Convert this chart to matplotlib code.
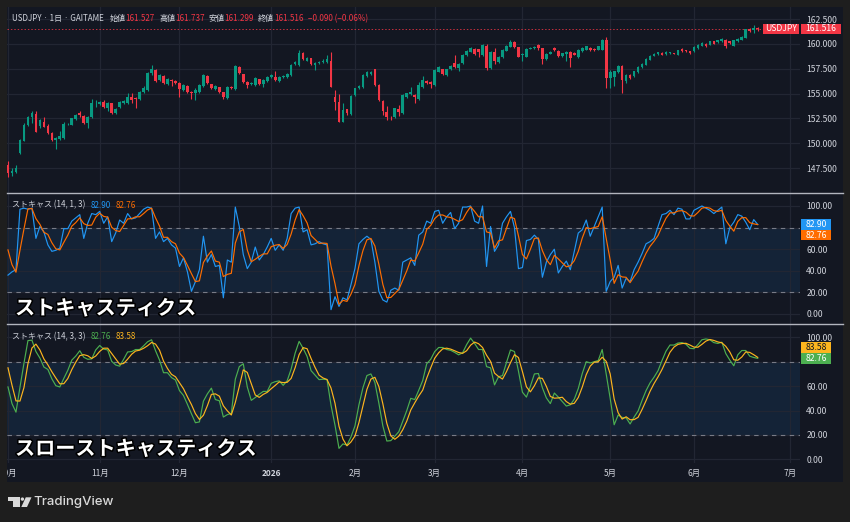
import matplotlib.pyplot as plt
import matplotlib.patches as mpatches
import matplotlib.transforms as mtransforms
import matplotlib.patheffects as pe
import numpy as np
import pandas as pd

plt.rcParams['font.family'] = ['Noto Sans CJK JP', 'DejaVu Sans']

# ---- data (USDJPY daily, 2025-10-01 .. 2026-06-23) ----
opens = [147.83, 147.06, 147.16, 149.0, 150.24, 151.85, 152.62, 152.95, 151.78, 152.18,
         151.75, 151.01, 150.34, 150.44, 150.57, 151.91, 151.85, 152.42, 153.09, 152.79,
         152.01, 152.62, 154.02, 153.96, 154.16, 153.59, 154.02, 153.09, 153.69, 154.09,
         154.02, 154.7, 154.53, 154.43, 155.2, 155.37, 157.04, 157.38, 156.37, 156.77,
         155.93, 156.37, 156.3, 156.1, 155.37, 155.77, 155.2, 155.1, 155.2, 155.77,
         156.77, 155.93, 155.47, 155.63, 155.13, 154.6, 155.7, 155.43, 157.65, 156.97,
         156.2, 155.97, 155.87, 156.44, 155.97, 156.3, 156.64, 156.64, 156.3, 156.64,
         156.7, 156.87, 157.98, 157.88, 159.05, 158.31, 158.55, 157.88, 158.04, 158.21,
         158.21, 158.31, 154.63, 154.13, 152.18, 153.42, 153.0, 154.86, 155.53, 155.7,
         156.77, 156.97, 157.44, 155.87, 154.29, 153.19, 152.68, 152.62, 153.42, 153.09,
         154.69, 154.96, 154.86, 154.46, 155.7, 156.27, 156.2, 155.87, 157.21, 157.44,
         156.87, 157.44, 158.04, 157.54, 158.04, 158.88, 159.22, 159.45, 159.45, 158.88,
         159.79, 157.54, 159.22, 158.21, 158.65, 159.32, 159.72, 160.22, 159.65, 158.88,
         158.71, 159.52, 159.55, 159.89, 159.55, 158.45, 159.0, 159.55, 159.32, 158.78,
         158.99, 159.16, 159.09, 158.69, 159.26, 159.43, 159.6, 159.49, 159.43, 159.43,
         160.37, 156.57, 156.67, 157.14, 157.81, 156.23, 156.9, 156.8, 157.14, 157.71,
         157.91, 158.42, 158.82, 158.99, 159.09, 158.99, 159.09, 159.06, 158.92, 159.53,
         159.36, 159.26, 159.26, 159.6, 159.83, 160.03, 159.93, 160.27, 160.17, 160.3,
         160.44, 160.27, 159.83, 160.27, 160.44, 160.61, 161.45, 161.38, 161.527]
highs = [148.26, 147.49, 147.79, 150.45, 152.0, 152.75, 153.26, 153.26, 152.42, 152.62,
         151.9, 151.15, 150.67, 151.2, 152.1, 152.05, 152.6, 152.95, 153.26, 152.85,
         152.75, 154.43, 154.36, 154.3, 154.4, 154.2, 154.1, 153.55, 154.25, 154.35,
         155.03, 155.03, 154.7, 155.3, 155.77, 157.2, 157.88, 157.45, 156.95, 156.85,
         156.55, 156.44, 156.37, 156.2, 155.95, 155.85, 155.3, 155.53, 155.95, 156.95,
         156.9, 156.0, 155.9, 155.7, 155.2, 155.77, 155.77, 157.85, 157.75, 157.0,
         156.3, 156.2, 156.65, 156.5, 156.45, 156.8, 156.95, 157.27, 156.8, 156.85,
         157.05, 157.95, 158.3, 159.4, 159.22, 158.7, 158.6, 158.2, 158.3, 158.45,
         158.88, 159.22, 155.37, 154.96, 154.02, 153.5, 154.85, 155.6, 155.85, 156.95,
         157.31, 157.3, 157.5, 155.95, 154.35, 153.76, 152.75, 153.6, 153.86, 154.95,
         155.1, 155.7, 154.95, 156.2, 156.77, 156.35, 156.3, 157.45, 157.8, 157.5,
         157.5, 157.85, 158.88, 158.05, 158.95, 159.35, 159.7, 159.55, 159.5, 159.95,
         160.0, 159.3, 159.55, 158.8, 159.45, 159.85, 160.35, 160.3, 159.7, 159.05,
         159.6, 159.7, 159.8, 159.98, 159.6, 159.05, 159.3, 159.72, 159.4, 159.12,
         159.26, 159.25, 159.15, 159.5, 159.66, 159.83, 159.66, 159.55, 159.83, 160.5,
         160.7, 157.41, 157.3, 157.9, 157.91, 157.0, 156.95, 157.3, 157.78, 158.05,
         158.55, 158.9, 159.05, 159.22, 159.15, 159.3, 159.22, 159.1, 159.43, 159.6,
         159.43, 159.3, 159.76, 160.0, 160.17, 160.1, 160.34, 160.34, 160.44, 160.58,
         160.51, 160.34, 160.44, 160.58, 160.78, 161.52, 161.62, 161.95, 161.737]
lows = [146.65, 146.7, 147.06, 148.9, 150.2, 151.75, 152.08, 151.1, 151.5, 151.6,
        150.95, 150.2, 149.4, 150.3, 150.45, 151.85, 151.8, 152.35, 152.68, 151.9,
        151.58, 152.55, 153.69, 153.9, 153.6, 153.3, 153.0, 152.95, 153.6, 154.0,
        153.95, 154.02, 153.59, 154.36, 155.1, 155.3, 156.9, 156.2, 156.3, 156.0,
        155.85, 155.77, 155.95, 154.7, 155.3, 155.03, 154.43, 154.36, 155.1, 155.7,
        155.95, 155.45, 155.4, 155.05, 154.43, 154.43, 155.45, 155.4, 156.95, 156.1,
        155.6, 155.9, 155.8, 155.9, 155.7, 156.2, 156.55, 156.3, 156.2, 156.55,
        156.6, 156.8, 157.9, 157.8, 158.4, 158.25, 157.9, 157.37, 157.95, 158.1,
        158.1, 155.65, 153.35, 152.1, 152.1, 152.85, 152.9, 154.8, 155.45, 155.6,
        156.7, 156.9, 155.8, 154.3, 152.85, 152.35, 152.35, 152.55, 152.75, 153.0,
        154.6, 154.9, 154.02, 154.4, 155.6, 155.95, 155.53, 155.8, 157.15, 156.9,
        156.8, 157.4, 157.55, 157.31, 158.0, 158.8, 159.15, 158.9, 158.71, 158.8,
        157.4, 157.45, 158.0, 158.1, 158.55, 159.25, 159.65, 159.55, 158.65, 158.31,
        158.65, 159.45, 159.45, 159.38, 157.98, 158.4, 158.95, 159.3, 158.7, 158.7,
        158.25, 157.7, 158.85, 158.6, 159.2, 159.36, 159.3, 159.3, 159.36, 159.36,
        155.56, 155.56, 155.72, 157.05, 155.05, 156.1, 156.5, 156.7, 157.05, 157.6,
        157.85, 158.35, 158.75, 158.9, 158.85, 158.92, 159.02, 158.96, 158.86, 159.2,
        159.2, 159.02, 159.19, 159.53, 159.76, 159.7, 159.86, 159.96, 160.1, 160.24,
        159.56, 160.03, 159.76, 160.2, 160.37, 160.55, 161.18, 161.11, 161.299]
closes = [147.06, 147.26, 147.49, 150.34, 151.85, 152.62, 153.09, 151.18, 152.35, 151.68,
          151.01, 150.34, 150.57, 150.74, 151.91, 151.95, 152.52, 152.85, 152.85, 152.08,
          152.68, 154.02, 154.09, 154.19, 153.69, 154.09, 153.09, 153.46, 154.16, 154.26,
          154.7, 154.36, 154.43, 155.2, 155.53, 157.11, 157.44, 156.3, 156.87, 156.1,
          156.44, 156.3, 156.1, 155.43, 155.87, 155.2, 155.1, 155.37, 155.87, 156.87,
          156.03, 155.53, 155.8, 155.13, 154.7, 155.7, 155.53, 157.78, 157.04, 156.2,
          155.87, 156.1, 156.54, 155.97, 156.37, 156.7, 156.87, 156.37, 156.7, 156.77,
          156.97, 157.88, 158.18, 159.05, 158.45, 158.61, 157.98, 158.11, 158.21, 158.31,
          158.45, 155.7, 154.19, 152.18, 153.35, 153.1, 154.76, 155.53, 155.77, 156.87,
          157.21, 157.21, 155.87, 154.36, 153.29, 152.68, 152.62, 153.52, 153.19, 154.86,
          155.03, 155.2, 154.69, 155.87, 156.37, 156.03, 155.97, 157.37, 157.71, 156.97,
          157.44, 157.78, 157.64, 157.98, 158.88, 159.28, 159.62, 158.98, 159.22, 159.89,
          157.54, 159.22, 158.31, 158.71, 159.38, 159.79, 160.22, 159.65, 158.71, 158.9,
          159.52, 159.62, 159.72, 159.55, 158.45, 158.98, 159.22, 159.38, 158.78, 159.05,
          159.19, 158.59, 158.92, 159.43, 159.6, 159.76, 159.36, 159.36, 159.76, 160.44,
          156.57, 157.14, 157.24, 157.81, 156.33, 156.9, 156.57, 157.24, 157.71, 157.98,
          158.49, 158.82, 158.99, 159.16, 158.92, 159.23, 159.16, 159.02, 159.36, 159.26,
          159.26, 159.09, 159.7, 159.93, 160.1, 159.76, 160.27, 160.03, 160.37, 160.51,
          159.76, 160.1, 160.37, 160.51, 160.71, 161.45, 161.25, 161.62, 161.516]

# raw %K (14); warmup = bars just before the visible range
k_warmup = [95, 90, 80, 62]
k_raw = [36, 39, 41, 97, 98, 97, 98, 70, 81, 76,
         64, 58, 59, 61, 79, 79, 86, 89, 92, 70,
         84, 93, 92, 95, 84, 90, 67, 75, 87, 84,
         93, 88, 89, 93, 97, 99, 98, 70, 76, 67,
         70, 64, 61, 44, 52, 39, 21, 30, 41, 72,
         48, 55, 44, 45, 15, 50, 48, 99, 81, 55,
         42, 48, 62, 50, 55, 62, 70, 59, 64, 59,
         70, 93, 98, 99, 76, 78, 64, 65, 67, 65,
         64, 4, 16, 7, 15, 13, 27, 42, 65, 69,
         72, 69, 48, 21, 13, 11, 22, 24, 22, 48,
         50, 52, 45, 73, 76, 86, 84, 95, 96, 84,
         90, 94, 79, 84, 99, 99, 100, 86, 84, 100,
         44, 81, 58, 64, 84, 90, 95, 80, 42, 43,
         68, 69, 73, 69, 34, 48, 55, 60, 38, 44,
         49, 41, 58, 75, 78, 87, 72, 81, 90, 99,
         21, 30, 34, 45, 24, 33, 30, 41, 48, 56,
         65, 67, 70, 81, 92, 93, 96, 92, 98, 97,
         88, 88, 96, 98, 100, 98, 96, 93, 96, 99,
         65, 80, 85, 92, 90.6, 85, 78, 87.38, 82.9]

month_pos = [0, 23, 43, 66, 87, 107, 129, 151, 172, 196]
month_labels = ['10月', '11月', '12月', '2026', '2月', '3月', '4月', '5月', '6月', '7月']
price_ticks = [147.5, 150.0, 152.5, 155.0, 157.5, 160.0, 162.5]
stoch_ticks = [0, 20, 40, 60, 80, 100]

# stochastic lines (TradingView: %D = SMA3 of %K, slow = SMA3 twice)
k_s = pd.Series(k_warmup + k_raw)
d_s = k_s.rolling(3).mean()
sd_s = d_s.rolling(3).mean()
w = len(k_warmup)
k = k_s.values[w:]
d = d_s.values[w:]
sk = d
sd = sd_s.values[w:]

o = np.array(opens); h = np.array(highs); l = np.array(lows); c = np.array(closes)
idx = np.arange(len(c))

W, H = 850, 522
BG = '#131722'
GRID = '#222633'
TXT = '#d1d4dc'
UP, DOWN = '#089981', '#F23645'
BLUE, ORANGE, GREEN, YELLOW = '#2196F3', '#FF6D00', '#4CAF50', '#FDB51E'

fig = plt.figure(figsize=(8.5, 5.22), dpi=100)
fig.patch.set_facecolor('#1e1e1e')


def P(x, y):
    return (x / W, 1 - y / H)


def px_axes(x0, y0, x1, y1):
    ax = fig.add_axes([x0 / W, 1 - y1 / H, (x1 - x0) / W, (y1 - y0) / H])
    ax.set_facecolor(BG)
    for s in ax.spines.values():
        s.set_visible(False)
    return ax


fig.add_artist(mpatches.Rectangle(P(7, 482), 836 / W, 475 / H, transform=fig.transFigure,
                                  fc=BG, ec='none', zorder=-5))

ax1 = px_axes(7, 7, 800, 192.5)
ax2 = px_axes(7, 194, 800, 323.5)
ax3 = px_axes(7, 325, 800, 463)
axt = px_axes(7, 463, 800, 482)

for ax in (ax1, ax2, ax3, axt):
    ax.set_xlim(-0.25, 198.6)
    ax.set_xticks(month_pos)
    ax.tick_params(axis='x', length=0, labelbottom=False)
    ax.yaxis.tick_right()
    ax.tick_params(axis='y', length=0, pad=4.5, labelsize=6.2, labelcolor=TXT)
    ax.grid(True, color=GRID, lw=0.9)
    ax.set_axisbelow(True)
axt.grid(False)
axt.set_yticks([])
axt.set_ylim(0, 1)

# price panel
ax1.set_ylim(145.06, 163.71)
ax1.set_yticks(price_ticks)
ax1.set_yticklabels([f'{v:.3f}' for v in price_ticks])
cols = np.where(c >= o, UP, DOWN)
ax1.vlines(idx, l, h, colors=cols, lw=0.8, zorder=2)
ax1.bar(idx, np.maximum(np.abs(c - o), 0.06), bottom=np.minimum(o, c), width=0.68,
        color=cols, linewidth=0, zorder=3)
ax1.axhline(c[-1], color=DOWN, lw=0.7, ls=(0, (1.5, 2)), alpha=0.8, zorder=1)

bt = mtransforms.blended_transform_factory(ax1.transAxes, ax1.transData)
bh = 0.975
ax1.add_patch(mpatches.Rectangle((756 / 793, c[-1] - bh / 2), 36.3 / 793, bh, transform=bt,
                                 fc=DOWN, ec='none', clip_on=False, zorder=5))
ax1.add_patch(mpatches.Rectangle((1.001, c[-1] - bh / 2), 40.5 / 793, bh, transform=bt,
                                 fc=DOWN, ec='none', clip_on=False, zorder=5))
ax1.text(774 / 793, c[-1], 'USDJPY', transform=bt, ha='center', va='center',
         color='white', fontsize=6.2, zorder=6, clip_on=False)
ax1.text(1.001 + 20.2 / 793, c[-1], f'{c[-1]:.3f}', transform=bt, ha='center',
         va='center', color='white', fontsize=6.2, zorder=6, clip_on=False)

# stochastic panels (80.00 label sits under the value boxes, so it is left blank)
for ax in (ax2, ax3):
    ax.set_yticks(stoch_ticks)
    ax.set_yticklabels(['' if v == 80 else f'{v:.2f}' for v in stoch_ticks])
    ax.axhspan(20, 80, color=BLUE, alpha=0.1, lw=0, zorder=0)
    for lv in (20, 80):
        ax.axhline(lv, color='#787B86', lw=0.8, ls=(0, (4, 4)), zorder=1)
ax2.set_ylim(-8.8, 111.1)
ax3.set_ylim(-3.0, 110.1)

ax2.plot(idx, k, color=BLUE, lw=0.85, zorder=3)
ax2.plot(idx, d, color=ORANGE, lw=0.85, zorder=4)
ax3.plot(idx, sk, color=GREEN, lw=0.85, zorder=3)
ax3.plot(idx, sd, color=YELLOW, lw=0.85, zorder=4)


def value_box(ax, ypos, hdata, text, fc, tc='white'):
    t = mtransforms.blended_transform_factory(ax.transAxes, ax.transData)
    ax.add_patch(mpatches.Rectangle((1.001, ypos - hdata / 2), 30.5 / 793, hdata,
                                    transform=t, fc=fc, ec='none', clip_on=False, zorder=5))
    ax.text(1.001 + 15.2 / 793, ypos, text, transform=t, ha='center', va='center',
            color=tc, fontsize=6.2, clip_on=False, zorder=6)


value_box(ax2, k[-1], 9.9, f'{k[-1]:.2f}', BLUE)
value_box(ax2, k[-1] - 9.9, 9.9, f'{d[-1]:.2f}', ORANGE)
value_box(ax3, sk[-1], 9.0, f'{sk[-1]:.2f}', GREEN)
value_box(ax3, sk[-1] + 9.0, 9.0, f'{sd[-1]:.2f}', YELLOW, tc='#131722')

# month labels
for pos, lab in zip(month_pos, month_labels):
    axt.text(pos, 0.47, lab, ha='center', va='center', fontsize=6, color=TXT,
             weight='bold' if lab == '2026' else 'normal', clip_on=True)

# panel separators
for yy in (193.2, 324.2):
    fig.add_artist(plt.Line2D([7 / W, 843 / W], [1 - yy / H, 1 - yy / H],
                              color='#b2b5be', lw=1.0, transform=fig.transFigure))

renderer = fig.canvas.get_renderer()


def seq_text(x, y, parts, size):
    for s, col, gap in parts:
        t = fig.text(x / W, 1 - y / H, s, color=col, fontsize=size, ha='left', va='center')
        x += t.get_window_extent(renderer).width + gap


seq_text(12, 18.8, [('USDJPY · 1日 · GAITAME', TXT, 6), ('始値', TXT, 0),
                    (f'{o[-1]:.3f}', DOWN, 4), ('高値', TXT, 0), (f'{h[-1]:.3f}', DOWN, 4),
                    ('安値', TXT, 0), (f'{l[-1]:.3f}', DOWN, 4), ('終値', TXT, 0),
                    (f'{c[-1]:.3f}', DOWN, 4), ('−0.090 (−0.06%)', DOWN, 0)], 5.8)
seq_text(12, 205, [('ストキャス (14, 1, 3)', TXT, 5), (f'{k[-1]:.2f}', BLUE, 5),
                   (f'{d[-1]:.2f}', ORANGE, 0)], 5.8)
seq_text(12, 336.5, [('ストキャス (14, 3, 3)', TXT, 5), (f'{sk[-1]:.2f}', GREEN, 5),
                     (f'{sd[-1]:.2f}', YELLOW, 0)], 5.8)

outline = [pe.withStroke(linewidth=2.2, foreground='#000000')]
fig.text(15 / W, 1 - 308 / H, 'ストキャスティクス', fontsize=14.5, weight='bold',
         color='white', va='center', path_effects=outline)
fig.text(15 / W, 1 - 448.5 / H, 'スローストキャスティクス', fontsize=14.5, weight='bold',
         color='white', va='center', path_effects=outline)

# TradingView logo
LOGO = '#d9d9d9'
fig.add_artist(mpatches.Rectangle(P(7.5, 500.8), 12 / W, 3.5 / H, transform=fig.transFigure,
                                  fc=LOGO, ec='none'))
fig.add_artist(mpatches.Rectangle(P(13.5, 507), 6 / W, 9.7 / H, transform=fig.transFigure,
                                  fc=LOGO, ec='none'))
fig.add_artist(mpatches.Ellipse(P(22.4, 499.1), 3.4 / W, 3.4 / H, transform=fig.transFigure,
                                fc=LOGO, ec='none'))
fig.add_artist(mpatches.Polygon([P(25.8, 497.3), P(31.5, 497.3), P(27, 507), P(21.3, 507)],
                                transform=fig.transFigure, fc=LOGO, ec='none'))
fig.text(33 / W, 1 - 502 / H, 'TradingView', fontsize=9.5, color=LOGO,
         family=['Inter', 'DejaVu Sans'], weight='medium', va='center')

fig.savefig('out.png', dpi=100, facecolor=fig.get_facecolor())
